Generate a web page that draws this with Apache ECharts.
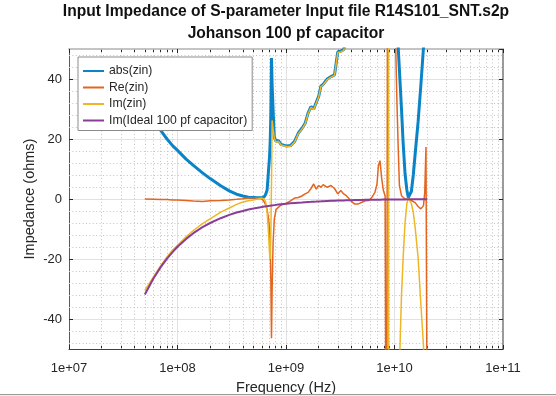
<!DOCTYPE html>
<html>
<head>
<meta charset="utf-8">
<script src="https://cdn.jsdelivr.net/npm/echarts@6/dist/echarts.min.js"></script>
<style>
html, body { margin: 0; padding: 0; background: #fff; }
#chart { width: 556px; height: 396px; }
#strip { position: absolute; left: 0; top: 394px; width: 556px; height: 2px; background: #efefef; border-top: 1px solid #9a9a9a; }
</style>
</head>
<body>
<div id="chart"></div>
<div id="strip"></div>
<script>
// frequency points (Hz)
var freqHz = [
  5e7, 6e7, 7e7, 8e7, 9e7, 1e8, 1.2e8, 1.4e8, 1.7e8, 2e8,
  2.5e8, 3e8, 3.5e8, 4e8, 4.5e8, 5e8, 5.5e8, 6e8, 6.3e8, 6.5e8,
  6.7e8, 6.9e8, 7.05e8, 7.15e8, 7.25e8, 7.35e8, 7.45e8, 7.6e8, 7.8e8, 8.1e8,
  8.5e8, 9e8, 1e9, 1.1e9, 1.2e9, 1.3e9, 1.4e9, 1.5e9, 1.6e9, 1.7e9,
  1.8e9, 1.9e9, 2.0e9, 2.1e9, 2.2e9, 2.4e9, 2.6e9, 2.8e9, 3.0e9, 3.2e9,
  3.4e9, 3.6e9, 3.8e9, 4.0e9, 4.3e9, 4.6e9, 5.0e9, 5.4e9, 5.8e9, 6.2e9,
  6.6e9, 6.9e9, 7.1e9, 7.35e9, 7.6e9, 7.9e9, 8.2e9, 8.45e9, 8.7e9, 8.9e9,
  9.5e9, 1.02e10, 1.05e10, 1.08e10, 1.11e10, 1.16e10, 1.2e10, 1.25e10, 1.3e10, 1.34e10,
  1.38e10, 1.43e10, 1.49e10, 1.55e10, 1.65e10, 1.75e10, 1.85e10, 1.9e10, 1.95e10, 2.0e10
]

var absZin = [
  30.5, 26.2, 22.9, 20.0, 17.8, 16.2, 13.3, 11.2, 8.7, 6.8,
  4.4, 2.7, 1.6, 1.0, 0.6, 0.5, 0.4, 0.4, 0.7, 1.6,
  3.0, 9.5, 14.0, 19.0, 28.0, 47.0, 38.0, 30.0, 20.6, 19.2,
  19.5, 18.2, 17.7, 17.8, 19.2, 22.0, 23.5, 25.2, 28.7, 30.8,
  30.0, 32.2, 34.2, 37.7, 38.2, 40.0, 40.8, 41.4, 49.0, 49.3,
  49.8, 53.5, 57, 61, 66, 72, 80, 88, 97, 108,
  120, 132, 142, 158, 180, 210, 260, 340, 460, 320,
  210, 135, 80, 51, 43, 30, 19, 8.5, 3.0, 0.5,
  0.6, 2.5, 8.0, 15.0, 25.7, 38.0, 50.5, 58, 66, 78
]

var reZin = [
  0.0, -0.1, -0.2, -0.2, -0.3, -0.3, -0.5, -0.7, -0.8, -0.6,
  -0.5, -0.3, -0.1, 0.1, 0.3, 0.3, 0.4, 0.1, -1.0, -2.0,
  -3.5, -6.5, -10.0, -15.0, -27.0, -46.4, -30.0, -15.0, -6.7, -3.5,
  -2.8, -2.0, -1.5, -0.6, 0.3, 0.5, 1.0, 1.7, 2.2, 3.5,
  5.0, 3.3, 4.5, 3.9, 4.8, 3.9, 4.5, 3.5, 1.7, 2.8,
  1.7, 1.1, 0.2, -0.8, -1.7, -1.7, -1.1, -0.6, -0.5, 0.6,
  2.2, 5.0, 11.0, 12.8, 7.2, 2.8, 1.0, -150, 200, 300,
  150, 55, 34, 17.9, 4.5, 1.1, 0.5, 0.0, 0.2, 0.0,
  -0.3, -0.5, -0.6, -1.2, -2.5, -3.3, -2.2, 2.2, 17.3, -80
]

var imZin = [
  -30.5, -26.0, -22.2, -19.3, -17.0, -15.4, -12.6, -10.5, -8.2, -6.6,
  -4.4, -3.0, -1.8, -1.0, -0.6, -0.3, 0.0, 0.3, 0.0, -1.0,
  -4.5, -11.2, -18.0, -20.0, -12.0, 5.0, 26.2, 23.5, 20.3, 18.9,
  19.3, 18.0, 17.5, 17.6, 19.0, 21.8, 23.3, 25.0, 28.5, 30.6,
  29.8, 32.0, 34.0, 37.5, 38.0, 39.8, 40.6, 41.2, 48.8, 49.0,
  49.5, 53, 57, 61, 66, 72, 80, 88, 97, 108,
  120, 132, 142, 158, 180, 210, 260, 340, 450, -300,
  -200, -130, -100, -75, -56, -32, -20, -8, -1.5, 0.3,
  0.2, -1.5, -4.5, -9.5, -19.5, -35, -49, -58, -68, -80
]

var imIdeal = [
  -31.8, -26.5, -22.7, -19.9, -17.7, -15.9, -13.3, -11.4, -9.4, -8.0,
  -6.4, -5.3, -4.5, -4.0, -3.5, -3.2, -2.9, -2.65, -2.53, -2.45,
  -2.38, -2.31, -2.26, -2.23, -2.2, -2.17, -2.14, -2.09, -2.04, -1.96,
  -1.87, -1.77, -1.59, -1.45, -1.33, -1.22, -1.14, -1.06, -0.99, -0.94,
  -0.88, -0.84, -0.8, -0.76, -0.72, -0.66, -0.61, -0.57, -0.53, -0.5,
  -0.47, -0.44, -0.42, -0.4, -0.37, -0.35, -0.32, -0.29, -0.27, -0.26,
  -0.24, -0.23, -0.22, -0.22, -0.21, -0.2, -0.19, -0.19, -0.18, -0.18,
  -0.17, -0.16, -0.15, -0.15, -0.14, -0.14, -0.13, -0.13, -0.12, -0.12,
  -0.12, -0.11, -0.11, -0.1, -0.1, -0.09, -0.09, -0.08, -0.08, -0.08
]

var seriesNames = ['abs(zin)', 'Re(zin)', 'Im(zin)', 'Im(Ideal 100 pf capacitor)']
var seriesColors = ['#0a84c6', '#e2661f', '#eeb624', '#893d97']
var seriesWidths = [3, 1.5, 1.5, 2]
var seriesValues = [absZin, reZin, imZin, imIdeal]

// minor grid: 2..9 in each decade, and every 4 ohms between the labelled ticks
var minorX = []
for (var d = 7; d < 11; d++) {
  for (var m = 2; m <= 9; m++) minorX.push(m * Math.pow(10, d))
}
var minorY = []
for (var v = -48; v <= 48; v += 4) {
  if (v % 20 !== 0) minorY.push(v)
}

var font = 'Liberation Sans'
var ink = '#262626'

var chart = echarts.init(document.getElementById('chart'))

var series = seriesNames.map(function (name, i) {
  return {
    name: name,
    type: 'line',
    symbol: 'none',
    showSymbol: false,
    animation: false,
    z: 2 + i,
    color: seriesColors[i],
    lineStyle: { width: seriesWidths[i], color: seriesColors[i] },
    data: freqHz.map(function (f, k) { return [f, seriesValues[i][k]] })
  }
})

series[0].markLine = {
  silent: true,
  z: 1,
  animation: false,
  symbol: ['none', 'none'],
  label: { show: false },
  emphasis: { disabled: true },
  lineStyle: { color: '#c2c2c2', width: 1, type: [1, 2.4] },
  data: minorX.map(function (x) { return { xAxis: x } })
    .concat(minorY.map(function (y) { return { yAxis: y } }))
}

function expLabel (val) {
  var e = Math.round(Math.log(val) / Math.LN10)
  return '1e+' + (e < 10 ? '0' : '') + e
}

var logAxisBase = {
  type: 'log',
  logBase: 10,
  min: 1e7,
  max: 1e11
}

var titleStyle = { fontFamily: font, fontSize: 15.6, fontWeight: 'bold', color: '#111' }

chart.setOption({
  backgroundColor: '#fff',
  title: [
    {
      text: 'Input Impedance of S-parameter Input file R14S101_SNT.s2p',
      left: 286,
      textAlign: 'center',
      top: 3.5,
      padding: 0,
      textStyle: titleStyle
    },
    {
      text: 'Johanson 100 pf capacitor',
      left: 286,
      textAlign: 'center',
      top: 25.5,
      padding: 0,
      textStyle: titleStyle
    }
  ],
  legend: {
    orient: 'vertical',
    left: 78,
    top: 57,
    padding: [8, 5, 4, 4],
    itemGap: 4.5,
    itemWidth: 21,
    itemHeight: 14,
    backgroundColor: '#fff',
    borderColor: '#8c8c8c',
    borderWidth: 1,
    borderRadius: 0,
    itemStyle: { opacity: 0 },
    textStyle: { fontFamily: font, fontSize: 12.2, color: ink },
    data: seriesNames
  },
  grid: { left: 69, right: 53, top: 49, bottom: 47, outerBoundsMode: 'none' },
  xAxis: [
    Object.assign({}, logAxisBase, {
      position: 'bottom',
      name: 'Frequency (Hz)',
      nameLocation: 'middle',
      nameGap: 31,
      nameMoveOverlap: false,
      nameTextStyle: { fontFamily: font, fontSize: 14.5, color: ink },
      axisLine: { show: true, onZero: false, lineStyle: { color: '#404040', width: 1 } },
      axisTick: { show: true, inside: true, length: 4, lineStyle: { color: ink } },
      axisLabel: {
        fontFamily: font, fontSize: 13, color: ink, margin: 13,
        formatter: expLabel
      },
      splitLine: { show: true, lineStyle: { color: '#e1e1e1', width: 1 } },
      minorTick: { show: false }
    }),
    Object.assign({}, logAxisBase, {
      position: 'top',
      axisLine: { show: true, onZero: false, lineStyle: { color: '#c4c4c4', width: 2 } },
      axisTick: { show: true, inside: true, length: 4, lineStyle: { color: ink } },
      axisLabel: { show: false },
      splitLine: { show: false }
    }),
    Object.assign({}, logAxisBase, {
      position: 'bottom',
      axisLine: { show: false, onZero: false },
      axisTick: { show: true, inside: true, length: 3, customValues: minorX, lineStyle: { color: ink } },
      axisLabel: { show: false },
      splitLine: { show: false }
    }),
    Object.assign({}, logAxisBase, {
      position: 'top',
      axisLine: { show: false, onZero: false },
      axisTick: { show: true, inside: true, length: 3, customValues: minorX, lineStyle: { color: ink } },
      axisLabel: { show: false },
      splitLine: { show: false }
    })
  ],
  yAxis: [
    {
      type: 'value',
      position: 'left',
      min: -50,
      max: 50,
      name: 'Impedance (ohms)',
      nameLocation: 'middle',
      nameGap: 32,
      nameMoveOverlap: false,
      nameTextStyle: { fontFamily: font, fontSize: 14.5, color: ink },
      axisLine: { show: true, onZero: false, lineStyle: { color: '#5a5a5a', width: 1 } },
      axisTick: { show: true, inside: true, length: 4, lineStyle: { color: ink } },
      axisLabel: {
        fontFamily: font, fontSize: 13, color: ink, margin: 7,
        showMinLabel: false, showMaxLabel: false
      },
      splitLine: { show: true, lineStyle: { color: '#e1e1e1', width: 1 } }
    },
    {
      type: 'value',
      position: 'right',
      min: -50,
      max: 50,
      axisLine: { show: true, onZero: false, lineStyle: { color: '#9a9a9a', width: 2 } },
      axisTick: { show: true, inside: true, length: 4, lineStyle: { color: ink } },
      axisLabel: { show: false },
      splitLine: { show: false }
    }
  ],
  series: series
})
</script>
</body>
</html>
